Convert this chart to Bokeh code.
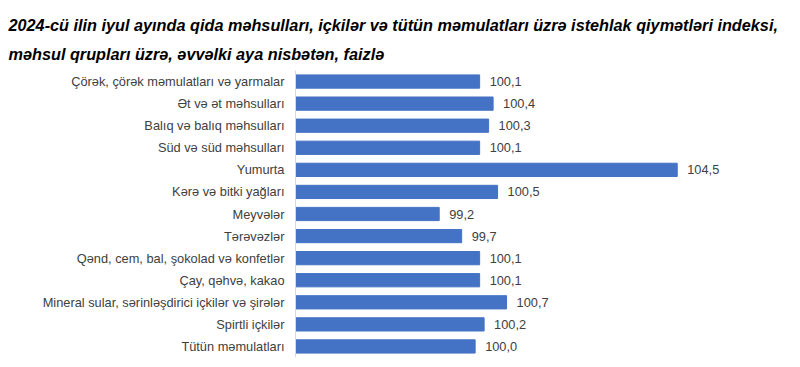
from bokeh.plotting import figure
from bokeh.models import ColumnDataSource, FactorRange, Title, Range1d
from bokeh.core.properties import value
from bokeh.embed import file_html
from bokeh.resources import INLINE

categories = [
    "Çörək, çörək məmulatları və yarmalar",
    "Ət və ət məhsulları",
    "Balıq və balıq məhsulları",
    "Süd və süd məhsulları",
    "Yumurta",
    "Kərə və bitki yağları",
    "Meyvələr",
    "Tərəvəzlər",
    "Qənd, cem, bal, şokolad və konfetlər",
    "Çay, qəhvə, kakao",
    "Mineral sular, sərinləşdirici içkilər və şirələr",
    "Spirtli içkilər",
    "Tütün məmulatları",
]
values = [100.1, 100.4, 100.3, 100.1, 104.5, 100.5, 99.2, 99.7, 100.1, 100.1, 100.7, 100.2, 100.0]
title_line1 = "2024-cü ilin iyul ayında qida məhsulları, içkilər və tütün məmulatları üzrə istehlak qiymətləri indeksi,"
title_line2 = "məhsul qrupları üzrə, əvvəlki aya nisbətən, faizlə"
x_start, x_end = 96, 107

labels = [f"{v:.1f}".replace(".", ",") for v in values]
source = ColumnDataSource(dict(cat=categories, val=values, lab=labels))

p = figure(
    width=792, height=360,
    y_range=FactorRange(*reversed(categories), range_padding=0),
    x_range=Range1d(x_start, x_end),
    output_backend="svg", toolbar_location=None,
    min_border_left=295, min_border_right=3, min_border_top=70, min_border_bottom=3,
)
p.title = None
p.outline_line_color = None
p.grid.visible = False
p.xaxis.visible = False

p.hbar(y="cat", left=x_start, right="val", height=0.6, source=source,
       fill_color="#4472C4", line_color="#4472C4")
p.text(x="val", y="cat", text="lab", source=source, x_offset=10,
       text_baseline="middle", text_align="left",
       text_font=value("Liberation Sans"), text_font_size="12.8px", text_color="#404040")

ax = p.yaxis[0]
ax.axis_line_color = "#d9d9d9"
ax.axis_line_width = 1
ax.major_tick_line_color = None
ax.minor_tick_line_color = None
ax.major_tick_out = 0
ax.major_tick_in = 0
ax.major_label_standoff = 11
ax.major_label_text_font = "Liberation Sans"
ax.major_label_text_font_size = "12.8px"
ax.major_label_text_color = "#404040"

p.add_layout(Title(text=title_line2, align="left", offset=-287,
                   text_font="Liberation Sans", text_font_style="bold italic",
                   text_font_size="16.25px", text_color="#000000", standoff=15), "above")
p.add_layout(Title(text=title_line1, align="left", offset=-287,
                   text_font="Liberation Sans", text_font_style="bold italic",
                   text_font_size="16.25px", text_color="#000000", standoff=4), "above")

open("out.html", "w").write(file_html(p, INLINE))
